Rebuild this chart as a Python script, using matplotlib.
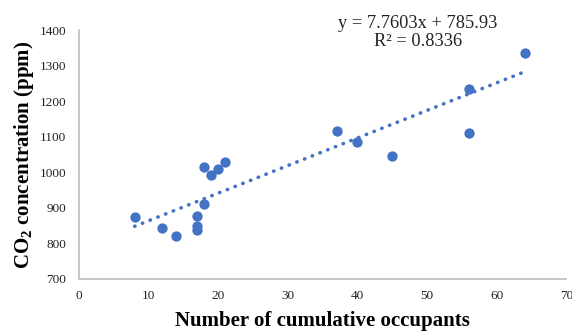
import numpy as np
import matplotlib.pyplot as plt

# Occupants vs CO2 readings
occupants = [8, 12, 14, 17, 17, 17, 18, 18, 19, 20, 21, 37, 40, 45, 56, 56, 64]
co2_ppm = [875, 843, 820, 876, 848, 838, 912, 1015, 993, 1010, 1030,
           1117, 1085, 1045, 1233, 1110, 1335]

# Trendline from the chart label
slope = 7.7603
intercept = 785.93
r_squared = 0.8336

x_ticks = [0, 10, 20, 30, 40, 50, 60, 70]
y_ticks = [700, 800, 900, 1000, 1100, 1200, 1300, 1400]

plt.rcParams['font.family'] = ['Liberation Serif', 'DejaVu Serif']
plt.rcParams['mathtext.fontset'] = 'custom'
plt.rcParams['mathtext.bf'] = 'Liberation Serif:bold'
blue = '#4472c4'

fig = plt.figure(figsize=(5.72, 3.34), dpi=100)
ax = fig.add_axes([0.138, 0.165, 0.852, 0.745])

ax.scatter(occupants, co2_ppm, s=55, color=blue, zorder=3, linewidths=0)

# Dotted linear trendline across the data range
xt = np.array([min(occupants), max(occupants)])
ax.plot(xt, slope * xt + intercept, color=blue, lw=2.6,
        linestyle=(0, (0.1, 2.2)), dash_capstyle='round', zorder=2)

ax.text(0.696, 0.99, f'y = {slope}x + {intercept}\nR² = {r_squared}',
        transform=ax.transAxes, ha='center', va='center',
        fontsize=13.2, linespacing=1.05, color='#222222')

ax.set_xlim(0, 70)
ax.set_ylim(700, 1400)
ax.set_xticks(x_ticks)
ax.set_yticks(y_ticks)
ax.tick_params(length=0, labelsize=9.5, colors='#222222')
ax.tick_params(axis='y', pad=9)
ax.tick_params(axis='x', pad=8)

for side in ['top', 'right']:
    ax.spines[side].set_visible(False)
for side in ['left', 'bottom']:
    ax.spines[side].set_color('#bfbfbf')
    ax.spines[side].set_linewidth(1.2)

ax.set_xlabel('Number of cumulative occupants', fontsize=15,
              fontweight='bold')
ax.xaxis.set_label_coords(0.5, -0.128)
ax.set_ylabel(r'CO$_\mathbf{2}$ concentration (ppm)', fontsize=15,
              fontweight='bold', labelpad=3)

plt.savefig('out.png', dpi=100)
